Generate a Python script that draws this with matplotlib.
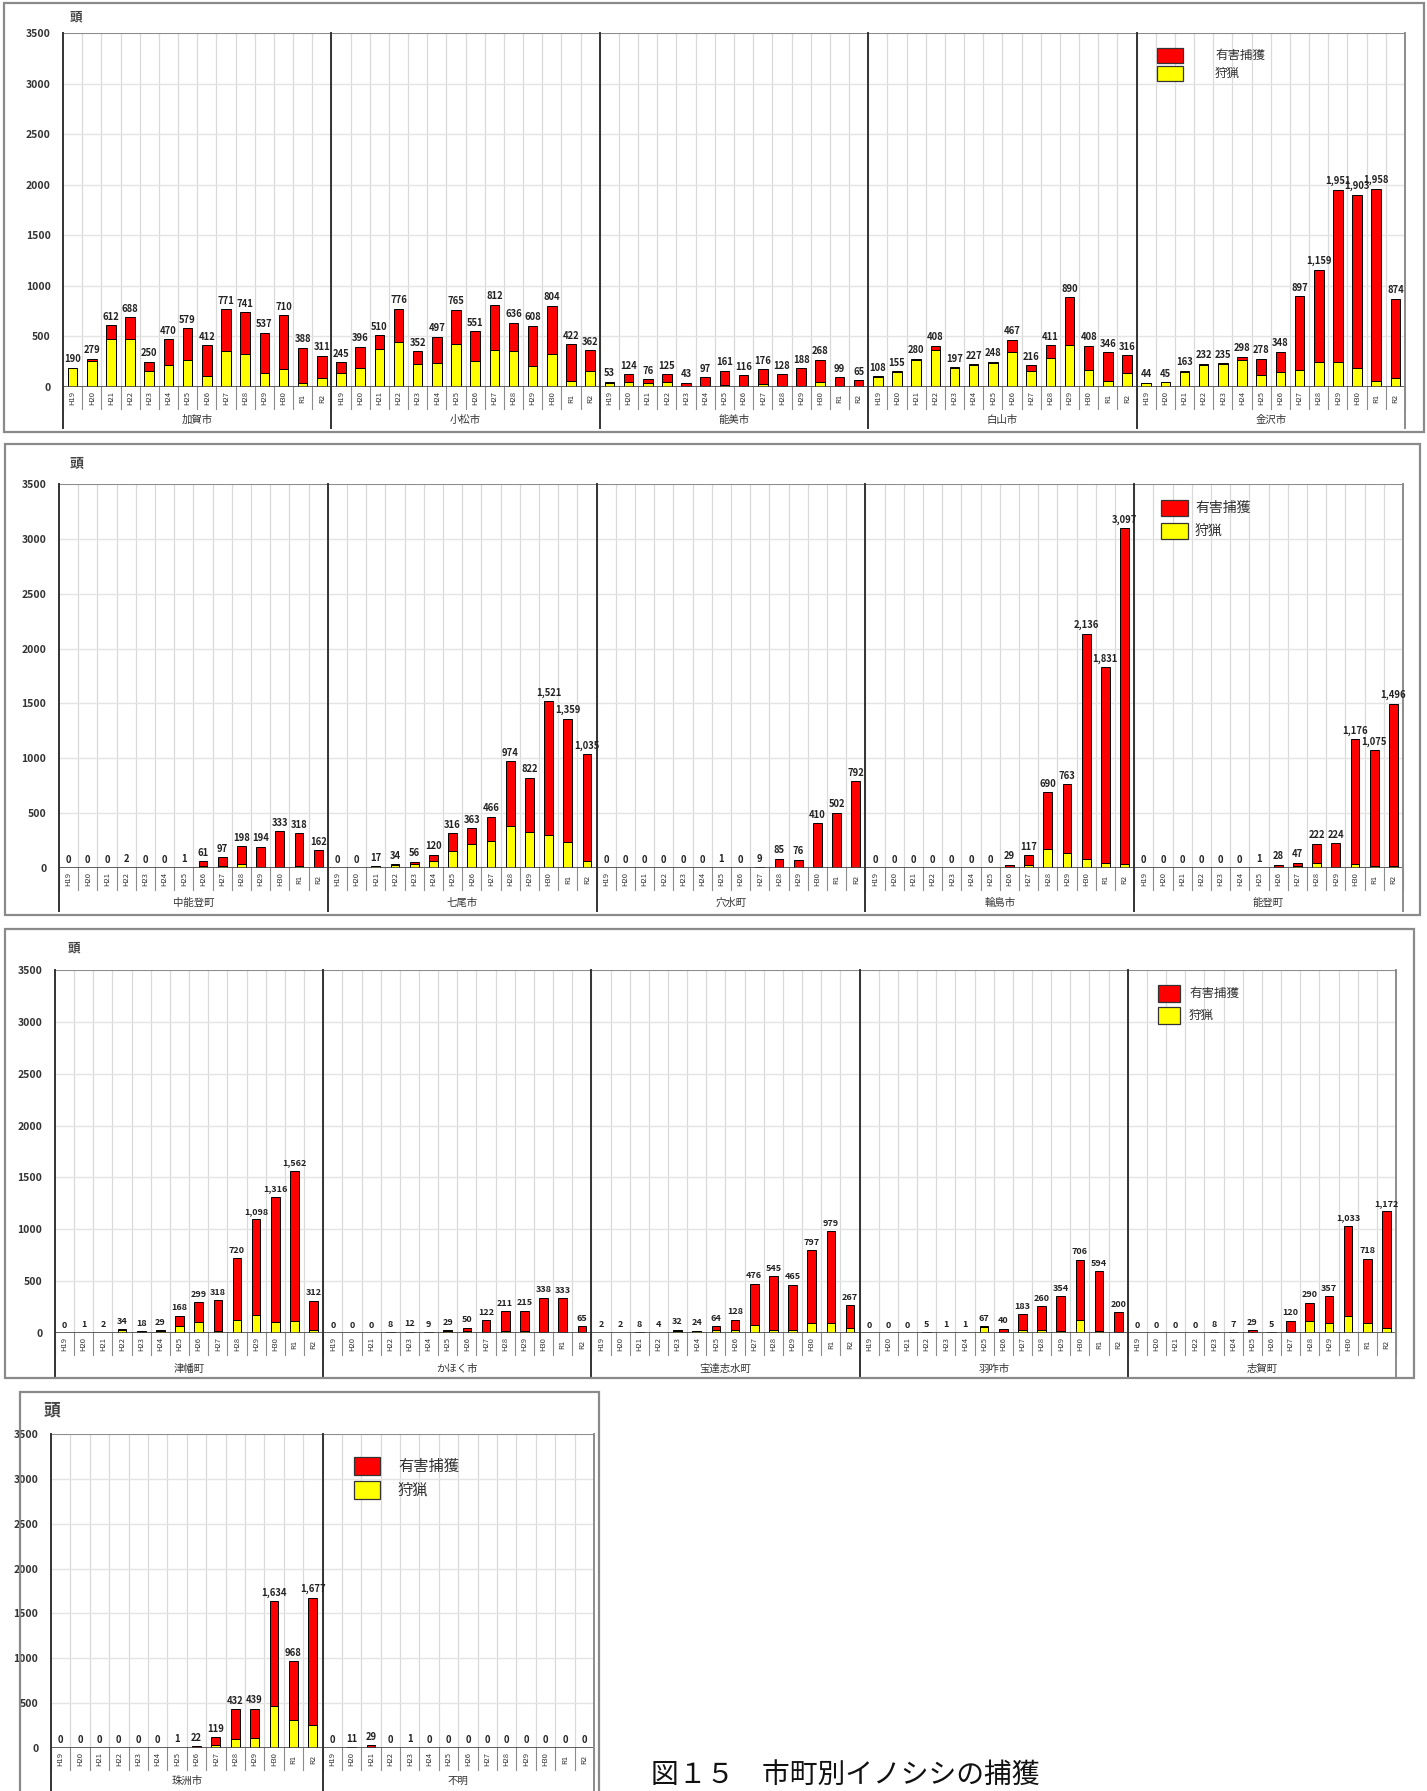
import numpy as np
import matplotlib.pyplot as plt
from matplotlib.patches import Rectangle

plt.rcParams['font.family'] = ['Noto Sans CJK JP', 'DejaVu Sans']

W, H = 1427, 1791
DPI = 100

years = ['H19', 'H20', 'H21', 'H22', 'H23', 'H24', 'H25', 'H26',
         'H27', 'H28', 'H29', 'H30', 'R1', 'R2']

# 1段目 (合計 / うち狩猟)
towns1 = ['加賀市', '小松市', '能美市', '白山市', '金沢市']
total1 = [
    [190, 279, 612, 688, 250, 470, 579, 412, 771, 741, 537, 710, 388, 311],
    [245, 396, 510, 776, 352, 497, 765, 551, 812, 636, 608, 804, 422, 362],
    [53, 124, 76, 125, 43, 97, 161, 116, 176, 128, 188, 268, 99, 65],
    [108, 155, 280, 408, 197, 227, 248, 467, 216, 411, 890, 408, 346, 316],
    [44, 45, 163, 232, 235, 298, 278, 348, 897, 1159, 1951, 1903, 1958, 874],
]
hunt1 = [
    [190, 260, 470, 470, 155, 213, 270, 110, 360, 325, 135, 175, 40, 90],
    [140, 190, 375, 440, 225, 240, 425, 255, 370, 355, 205, 330, 55, 155],
    [35, 50, 40, 50, 5, 10, 20, 10, 25, 10, 5, 50, 5, 5],
    [100, 150, 270, 370, 190, 220, 240, 345, 155, 285, 420, 170, 55, 135],
    [44, 45, 150, 220, 225, 270, 120, 145, 165, 245, 245, 185, 55, 85],
]

# 2段目
towns2 = ['中能登町', '七尾市', '穴水町', '輪島市', '能登町']
total2 = [
    [0, 0, 0, 2, 0, 0, 1, 61, 97, 198, 194, 333, 318, 162],
    [0, 0, 17, 34, 56, 120, 316, 363, 466, 974, 822, 1521, 1359, 1035],
    [0, 0, 0, 0, 0, 0, 1, 0, 9, 85, 76, 410, 502, 792],
    [0, 0, 0, 0, 0, 0, 0, 29, 117, 690, 763, 2136, 1831, 3097],
    [0, 0, 0, 0, 0, 0, 1, 28, 47, 222, 224, 1176, 1075, 1496],
]
hunt2 = [
    [0, 0, 0, 1, 0, 0, 0, 20, 20, 40, 5, 5, 15, 5],
    [0, 0, 15, 25, 35, 65, 155, 215, 245, 385, 330, 300, 240, 60],
    [0, 0, 0, 0, 0, 0, 0, 0, 0, 0, 0, 5, 0, 3],
    [0, 0, 0, 0, 0, 0, 0, 5, 30, 170, 140, 85, 45, 35],
    [0, 0, 0, 0, 0, 0, 0, 5, 15, 50, 10, 35, 15, 20],
]

# 3段目
towns3 = ['津幡町', 'かほく市', '宝達志水町', '羽咋市', '志賀町']
total3 = [
    [0, 1, 2, 34, 18, 29, 168, 299, 318, 720, 1098, 1316, 1562, 312],
    [0, 0, 0, 8, 12, 9, 29, 50, 122, 211, 215, 338, 333, 65],
    [2, 2, 8, 4, 32, 24, 64, 128, 476, 545, 465, 797, 979, 267],
    [0, 0, 0, 5, 1, 1, 67, 40, 183, 260, 354, 706, 594, 200],
    [0, 0, 0, 0, 8, 7, 29, 5, 120, 290, 357, 1033, 718, 1172],
]
hunt3 = [
    [0, 0, 0, 25, 10, 15, 65, 105, 15, 130, 170, 105, 115, 30],
    [0, 0, 0, 3, 5, 3, 15, 20, 10, 20, 15, 10, 5, 5],
    [1, 1, 3, 2, 20, 15, 30, 30, 80, 30, 30, 95, 95, 45],
    [0, 0, 0, 2, 0, 0, 55, 10, 30, 30, 15, 130, 15, 5],
    [0, 0, 0, 0, 3, 3, 10, 2, 10, 120, 95, 160, 95, 50],
]

# 4段目
towns4 = ['珠洲市', '不明']
total4 = [
    [0, 0, 0, 0, 0, 0, 1, 22, 119, 432, 439, 1634, 968, 1677],
    [0, 11, 29, 0, 1, 0, 0, 0, 0, 0, 0, 0, 0, 0],
]
hunt4 = [
    [0, 0, 0, 0, 0, 0, 0, 5, 30, 95, 110, 465, 315, 260],
    [0, 5, 10, 0, 0, 0, 0, 0, 0, 0, 0, 0, 0, 0],
]

series_names = ['有害捕獲', '狩猟']
RED, YELLOW = '#ff0000', '#ffff00'

fig = plt.figure(figsize=(W / DPI, H / DPI), dpi=DPI)


def fx(x):
    return x / W


def fy(y):
    return 1 - y / H


def draw_panel(towns, totals, hunts, frame, plot, ext, name_dy, unit_xy, unit_fs,
               leg_xy, leg_fs, val_fs, bar_w):
    x0, y0, x1, y1 = frame
    fig.patches.append(Rectangle((fx(x0), fy(y1)), fx(x1) - fx(x0), fy(y0) - fy(y1),
                                 transform=fig.transFigure, fill=False,
                                 ec='#8a8a8a', lw=1.6, zorder=0))
    px0, ptop, px1, pbase = plot
    hpx = pbase - ptop
    ax = fig.add_axes([fx(px0), fy(pbase), fx(px1) - fx(px0), fy(ptop) - fy(pbase)])
    ax.patch.set_alpha(0)

    n = len(towns) * len(years)
    xs = np.arange(n) + 0.5
    tot = np.concatenate(totals)
    hun = np.concatenate(hunts)
    harm = tot - hun

    ax.bar(xs, hun, bar_w, color=YELLOW, edgecolor='black', lw=0.7, zorder=3)
    ax.bar(xs, harm, bar_w, bottom=hun, color=RED, edgecolor='black', lw=0.7, zorder=3)

    ax.set_xlim(0, n)
    ax.set_ylim(0, 3500)
    for s in ax.spines.values():
        s.set_visible(False)
    ax.set_xticks([])
    ax.set_yticks(np.arange(0, 3501, 500))
    ax.tick_params(axis='y', length=0, pad=9, labelsize=7.5, labelcolor='#333333')
    for lab in ax.get_yticklabels():
        lab.set_fontweight('bold')

    for i in range(1, n):
        ax.axvline(i, color='#d9d9d9', lw=0.9, zorder=0)
    for v in range(500, 3500, 500):
        ax.axhline(v, color='#e4e4e4', lw=1.0, zorder=0)
    ax.axhline(3500, color='#8c8c8c', lw=1.5, zorder=1)
    ax.axhline(0, color='#444444', lw=1.2, zorder=4)

    trans = ax.get_xaxis_transform()
    box_h = 22 / hpx
    for i in range(n + 1):
        ax.plot([i, i], [-box_h, 0], transform=trans, color='#8c8c8c',
                lw=0.8, clip_on=False)
    for g in range(len(towns) + 1):
        col = '#8c8c8c' if g == len(towns) else '#333333'
        ax.plot([g * 14, g * 14], [-ext / hpx, 1], transform=trans, color=col,
                lw=1.4, clip_on=False, zorder=5)

    for i, x in enumerate(xs):
        ax.text(x, -11 / hpx, years[i % 14], transform=trans, rotation=90,
                ha='center', va='center', fontsize=5.5, color='#333333')
    for g, name in enumerate(towns):
        ax.text(g * 14 + 7, -name_dy / hpx, name, transform=trans,
                ha='center', va='center', fontsize=7.5, color='#333333')

    for x, t in zip(xs, tot):
        ax.annotate(f'{t:,}', (x, t), xytext=(0, 2.5), textcoords='offset points',
                    ha='center', va='bottom', fontsize=val_fs, fontweight='bold',
                    color='#222222', zorder=6)

    fig.text(fx(unit_xy[0]), fy(unit_xy[1]), '頭', fontsize=unit_fs,
             fontweight='bold', color='#444444', ha='left', va='center')

    lx, ly, lw_, lh, gap, tx = leg_xy
    for k, (name, col) in enumerate(zip(series_names, [RED, YELLOW])):
        yy = ly + k * gap
        fig.patches.append(Rectangle((fx(lx), fy(yy + lh)), fx(lw_), lh / H,
                                     transform=fig.transFigure, fc=col,
                                     ec='#333333', lw=0.9))
        fig.text(fx(tx), fy(yy + lh / 2), name, fontsize=leg_fs, color='#333333',
                 ha='left', va='center')
    return ax


draw_panel(towns1, total1, hunt1, frame=(4, 3, 1424, 432), plot=(63, 33, 1405, 387),
           ext=41, name_dy=33, unit_xy=(70, 17), unit_fs=9,
           leg_xy=(1157, 48, 26, 15, 18, 1215), leg_fs=9, val_fs=6.8, bar_w=0.5)
draw_panel(towns2, total2, hunt2, frame=(5, 444, 1420, 915), plot=(59, 484, 1403, 868),
           ext=43, name_dy=35, unit_xy=(70, 464), unit_fs=10,
           leg_xy=(1161, 500, 27, 16, 23, 1195), leg_fs=10, val_fs=6.8, bar_w=0.45)
draw_panel(towns3, total3, hunt3, frame=(5, 929, 1414, 1378), plot=(55, 970, 1396, 1333),
           ext=44, name_dy=36, unit_xy=(68, 948), unit_fs=9,
           leg_xy=(1158, 985, 22, 17, 22, 1189), leg_fs=9, val_fs=6.5, bar_w=0.45)
draw_panel(towns4, total4, hunt4, frame=(20, 1392, 599, 1800), plot=(51, 1434, 594, 1748),
           ext=50, name_dy=33, unit_xy=(44, 1410), unit_fs=12,
           leg_xy=(354, 1457, 26, 18, 24, 398), leg_fs=11, val_fs=6.8, bar_w=0.45)

fig.text(fx(651), fy(1775), '図１５　市町別イノシシの捕獲', fontsize=20,
         color='#111111', ha='left', va='center')

fig.savefig('out.png', dpi=DPI)
